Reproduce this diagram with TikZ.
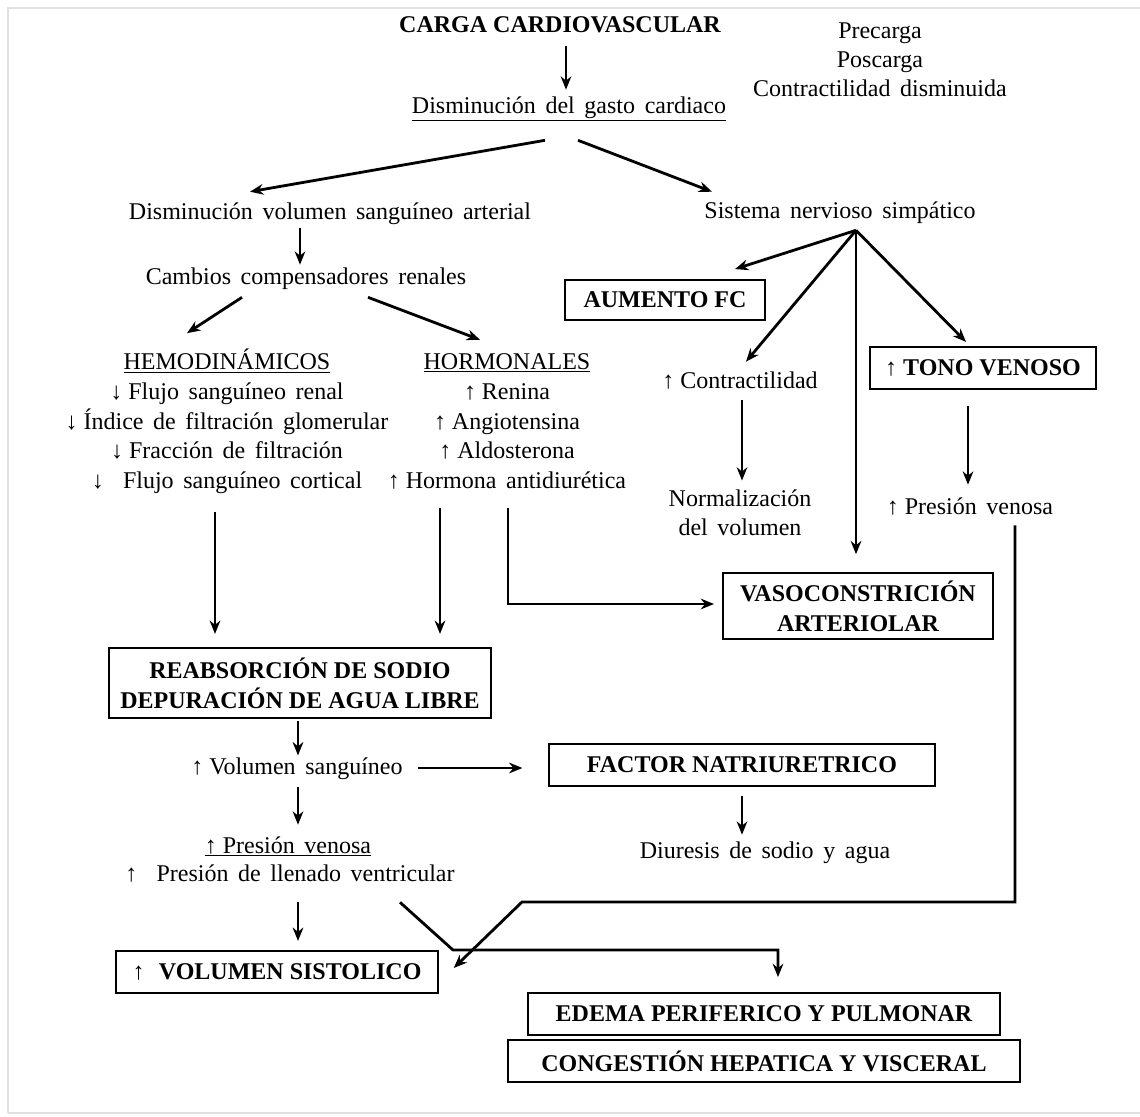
\documentclass[tikz,border=0pt]{standalone}
\usepackage{fontspec}
\setmainfont{Liberation Serif}
\usetikzlibrary{arrows.meta}
\newcommand{\myws}{\spaceskip=0.4em\relax}
\newcommand{\upa}{↑\hspace{0.25em}}
\newcommand{\dna}{↓\hspace{0.25em}}
\begin{document}
\begin{tikzpicture}[x=0.75pt,y=-0.75pt,
  every node/.style={font=\fontsize{18}{22.5}\selectfont\myws, inner sep=0pt},
  txt/.style={text height=13pt, text depth=4pt},
  blk/.style={align=center},
  box/.style={draw, line width=1.4pt, align=center, inner sep=0pt,
    font=\bfseries\fontsize{18}{22.5}\selectfont},
  arr/.style={line width=2.1pt, -{Stealth[length=10pt,width=8pt]}},
  frame/.style={draw=black!12, line width=1.5pt}
]
\useasboundingbox (0,0) rectangle (1140,1117);
\draw[frame] (8,1113) -- (8,8) -- (1150,8);
\draw[frame] (8,1113) -- (1150,1113);

% nodes
\node[txt, font=\bfseries\fontsize{18}{22.5}\selectfont] (carga) at (560,26) {CARGA CARDIOVASCULAR};
\node[blk, font=\fontsize{18}{21.75}\selectfont\myws] (pre) at (880,60) {Precarga\\Poscarga\\Contractilidad disminuida};
\node[txt] (dgc) at (569,107) {\underline{Disminución del gasto cardiaco}};
\node[txt] (dva) at (330,213) {Disminución volumen sanguíneo arterial};
\node[txt] (sns) at (840,212) {Sistema nervioso simpático};
\node[txt] (ccr) at (306,278) {Cambios compensadores renales};
\node[blk, font=\fontsize{18}{22.3}\selectfont\myws] (hemo) at (227,421.5) {\underline{HEMODINÁMICOS}\\\dna Flujo sanguíneo renal\\\dna Índice de filtración glomerular\\\dna Fracción de filtración\\↓\hspace{0.8em}Flujo sanguíneo cortical};
\node[blk, font=\fontsize{18}{22.3}\selectfont\myws] (horm) at (507,421.5) {\underline{HORMONALES}\\\upa Renina\\\upa Angiotensina\\\upa Aldosterona\\\upa Hormona antidiurética};
\node[box, minimum width=150pt, minimum height=30pt] (aum) at (665,300) {AUMENTO FC};
\node[txt] (contr) at (740,382) {\upa Contractilidad};
\node[box, minimum width=170pt, minimum height=31pt] (tono) at (983,368) {{\mdseries ↑} TONO VENOSO};
\node[blk, font=\fontsize{18}{21.75}\selectfont\myws] (norm) at (740,512.5) {Normalización\\del volumen};
\node[txt] (pv) at (970,508) {\upa Presión venosa};
\node[box, minimum width=202.5pt, minimum height=50pt] (vaso) at (858,606) {VASOCONSTRICIÓN\\ARTERIOLAR};
\node[box, minimum width=287pt, minimum height=52pt] (reabs) at (300,683) {REABSORCIÓN DE SODIO\\DEPURACIÓN DE AGUA LIBRE};
\node[txt] (vs) at (297,768) {\upa Volumen sanguíneo};
\node[box, minimum width=289pt, minimum height=31pt] (fact) at (742,765) {FACTOR NATRIURETRICO};
\node[txt] (diur) at (765,852) {Diuresis de sodio y agua};
\node[txt] (pven) at (288,847) {\underline{\upa Presión venosa}};
\node[txt] (pll) at (290,875) {↑\hspace{0.8em}Presión de llenado ventricular};
\node[box, minimum width=242pt, minimum height=31pt] (vsis) at (277,972) {{\mdseries ↑}\hspace{0.6em}VOLUMEN SISTOLICO};
\node[box, minimum width=354pt, minimum height=31.5pt] (edema) at (764,1014) {EDEMA PERIFERICO Y PULMONAR};
\node[box, minimum width=384pt, minimum height=31.5pt] (cong) at (764,1061) {CONGESTIÓN HEPATICA Y VISCERAL};

\coordinate (c1) at (522,902);
\coordinate (c2) at (453,950);

% connectors
\draw[arr] ([shift={(6,8)}]carga.south) -- ([shift={(-3,-5.7)}]dgc.north);
\draw[arr] ([shift={(-24,21.7)}]dgc.south) -- ([shift={(-80,-9.7)}]dva.north);
\draw[arr] ([shift={(9,21.7)}]dgc.south) -- ([shift={(-128,-8.7)}]sns.north);
\draw[arr] ([shift={(-30,3.7)}]dva.south) -- ([shift={(-6,-1.7)}]ccr.north);
\draw[arr] ([shift={(-64,7.7)}]ccr.south) -- ([shift={(-40,-15.7)}]hemo.north);
\draw[arr] ([shift={(62,7.7)}]ccr.south) -- ([shift={(-27,-13.7)}]horm.north);
\draw[arr] ([shift={(16,6.7)}]sns.south) -- ([shift={(70,-10)}]aum.north);
\draw[arr] ([shift={(16,6.7)}]sns.south) -- ([shift={(6,-8.7)}]contr.north);
\draw[arr] ([shift={(16,6.7)}]sns.south) -- ([shift={(-2,-17.5)}]vaso.north);
\draw[arr] ([shift={(16,6.7)}]sns.south) -- ([shift={(-17,-4.5)}]tono.north);
\draw[arr] ([shift={(2,6.7)}]contr.south) -- ([shift={(2,-8.7)}]norm.north);
\draw[arr] ([shift={(-15,16.5)}]tono.south) -- ([shift={(-2,-11.7)}]pv.north);
\draw[arr] ([shift={(45,5.7)}]pv.south) |- (c1) -- ([shift={(14.5,-4)}]vsis.east);
\draw[arr] ([shift={(110,15.7)}]pll.south) -- (c2) -| ([shift={(14,-15)}]edema.north);
\draw[arr] ([shift={(-12,18)}]hemo.south) -- ([shift={(-85,-13.5)}]reabs.north);
\draw[arr] ([shift={(-67,18)}]horm.south) -- ([shift={(140,-13.5)}]reabs.north);
\draw[arr] ([shift={(1,18)}]horm.south) |- ([shift={(-8,-2)}]vaso.west);
\draw[arr] ([shift={(-2,2.5)}]reabs.south) -- ([shift={(1,-1)}]vs.north);
\draw[arr] ([shift={(15,0)}]vs.east) -- ([shift={(-26,3)}]fact.west);
\draw[arr] ([shift={(1,7.7)}]vs.south) -- ([shift={(10,-10.7)}]pven.north);
\draw[arr] ([shift={(8,15.7)}]pll.south) -- ([shift={(21,-9.5)}]vsis.north);
\draw[arr] ([shift={(0,9.5)}]fact.south) -- ([shift={(-23,-5.7)}]diur.north);
\end{tikzpicture}
\end{document}
